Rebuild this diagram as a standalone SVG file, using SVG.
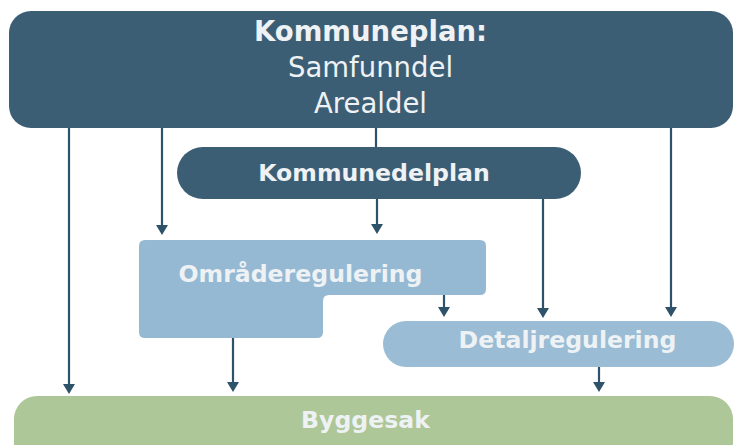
<svg xmlns="http://www.w3.org/2000/svg" width="734" height="445" viewBox="0 0 734 445">
<style>
.lbl{font-family:"DejaVu Sans",Verdana,sans-serif;font-weight:bold;font-size:23.6px;fill:#eef2f5;text-anchor:middle}
.top{font-family:"DejaVu Sans",Verdana,sans-serif;font-size:27.5px;fill:#eef2f5;text-anchor:middle}
.dark{fill:#3c5e74}
.light{fill:#95b9d3}
.green{fill:#adc798}
.conn line{stroke:#2d5269;stroke-width:2.2;fill:none}
</style>
<defs>
<marker id="ah" markerUnits="userSpaceOnUse" markerWidth="10" markerHeight="12" refX="2" refY="6" orient="auto">
<path d="M0,0 L10,6 L0,12 Z" fill="#2d5269"/>
</marker>
</defs>
<g id="kommuneplan">
<rect class="dark" x="9" y="11" width="724" height="117" rx="22" ry="22"/>
<text class="top" x="370.5" y="41" font-weight="bold">Kommuneplan:</text>
<text class="top" x="370.5" y="77">Samfunndel</text>
<text class="top" x="370.5" y="113">Arealdel</text>
</g>
<g id="kommunedelplan">
<rect class="dark" x="177" y="147" width="404" height="52" rx="26" ry="26"/>
<text class="lbl" x="374" y="181">Kommunedelplan</text>
</g>
<g id="omraderegulering">
<path class="light" d="M145,240 H480 Q486,240 486,246 V289 Q486,295 480,295 H329 Q323,295 323,301 V332 Q323,338 317,338 H145 Q139,338 139,332 V246 Q139,240 145,240 Z"/>
<text class="lbl" x="300.5" y="282">Områderegulering</text>
</g>
<g id="detaljregulering">
<rect class="light" x="383" y="321" width="351" height="46" rx="23" ry="23" style="fill:#9abcd4"/>
<text class="lbl" x="567.5" y="348">Detaljregulering</text>
</g>
<g id="byggesak">
<rect class="green" x="14" y="396" width="719" height="70" rx="23" ry="23"/>
<text class="lbl" x="365.5" y="428">Byggesak</text>
</g>
<g class="conn" id="connectors">
<line x1="69" y1="128" x2="69" y2="386" marker-end="url(#ah)"/>
<line x1="162" y1="128" x2="162" y2="227" marker-end="url(#ah)"/>
<line x1="376" y1="128" x2="376" y2="147"/>
<line x1="377" y1="199" x2="377" y2="226" marker-end="url(#ah)"/>
<line x1="543" y1="199" x2="543" y2="310" marker-end="url(#ah)"/>
<line x1="671" y1="128" x2="671" y2="309" marker-end="url(#ah)"/>
<line x1="444" y1="295" x2="444" y2="309" marker-end="url(#ah)"/>
<line x1="233" y1="338" x2="233" y2="384" marker-end="url(#ah)"/>
<line x1="599" y1="367" x2="599" y2="384" marker-end="url(#ah)"/>
</g>
</svg>
